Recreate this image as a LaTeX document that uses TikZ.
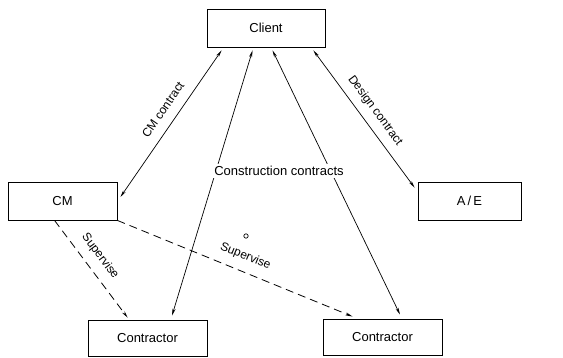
\documentclass[tikz,border=0pt]{standalone}
\usepackage{fontspec}
\setmainfont{Liberation Sans}
\usetikzlibrary{arrows.meta}
\begin{document}
\begin{tikzpicture}[x=1pt,y=1pt,
  box/.style={draw, line width=0.9pt, inner sep=0pt, font=\fontsize{13}{15}\selectfont},
  conn/.style={line width=0.7pt, {Stealth[length=7pt,width=3pt]}-{Stealth[length=7pt,width=3pt]}},
  sup/.style={line width=0.8pt, dash pattern=on 8pt off 5pt, -{Stealth[length=7pt,width=3pt]}},
  lbl/.style={font=\fontsize{12}{14}\selectfont, inner sep=1pt}]
\useasboundingbox (0,0) rectangle (563,357);
\node[box, minimum width=118pt, minimum height=38pt] (client) at (266,329) {Client};
\node[box, minimum width=109pt, minimum height=38pt] (cm) at (62.5,156) {CM};
\node[box, minimum width=103pt, minimum height=38pt] (ae) at (469.5,156) {A\,/\,E};
\node[box, minimum width=119pt, minimum height=36pt] (cl) at (147.5,19) {Contractor};
\node[box, minimum width=119pt, minimum height=36pt] (cr) at (382.5,20) {Contractor};
\draw[conn] ([xshift=15pt,yshift=-3pt]client.south west) -- node[lbl, sloped, above=9pt, pos=0.46] {CM contract} ([xshift=3pt,yshift=4pt]cm.east);
\draw[conn] ([xshift=46pt,yshift=-3pt]client.south west) -- ([xshift=24.5pt,yshift=4pt]cl.north);
\draw[conn] ([xshift=66pt,yshift=-3pt]client.south west) -- ([xshift=17.5pt,yshift=4pt]cr.north);
\draw[conn] ([xshift=-12pt,yshift=-3pt]client.south east) -- node[lbl, sloped, above=7pt, pos=0.5] {Design contract} ([xshift=-3pt,yshift=-6pt]ae.north west);
\draw[sup] ([xshift=47pt]cm.south west) -- node[lbl, sloped, above=8pt, pos=0.46] {Supervise} ([xshift=40pt,yshift=2pt]cl.north west);
\draw[sup] (cm.south east) -- node[lbl, sloped, above=8pt, pos=0.52] {Supervise} ([xshift=30pt,yshift=2pt]cr.north west);
\node[fill=white, inner sep=2pt, font=\fontsize{13}{15}\selectfont] (cc) at (279,186) {Construction contracts};
\draw[line width=0.7pt] (246,121) circle (2.2pt);
\end{tikzpicture}
\end{document}
